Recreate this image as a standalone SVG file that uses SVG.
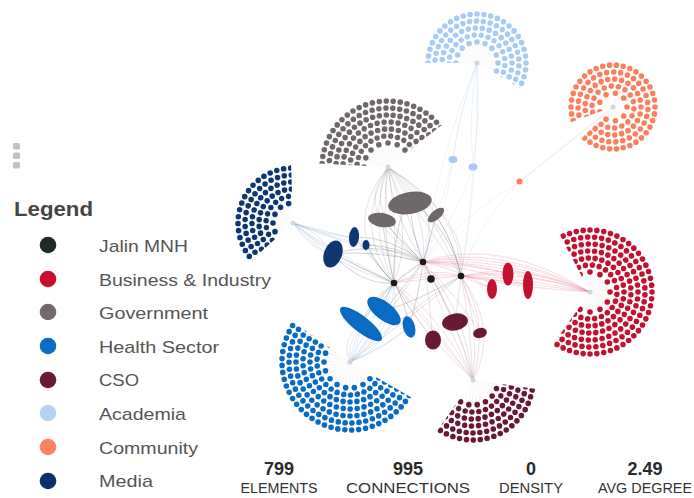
<svg xmlns="http://www.w3.org/2000/svg" width="694" height="498" viewBox="0 0 694 498">
  <defs>
    <style>
      .ring { fill: none; stroke-linecap: round; stroke-dasharray: 0 1; stroke-width: 5.6; }
      .spokes { fill: none; stroke: #c4c4c4; stroke-opacity: 0.55; stroke-dasharray: 0.12 1; }
      .hubdot { fill: #1b1b1b; }
      .fanc { fill: #d6d6d6; }
      .eg { fill: none; stroke: #7d7d7d; stroke-opacity: 0.3; stroke-width: 0.7; }
      .egd { fill: none; stroke: #555; stroke-opacity: 0.32; stroke-width: 0.8; }
      .ep { fill: none; stroke: #e0708a; stroke-opacity: 0.32; stroke-width: 0.8; }
      .eb { fill: none; stroke: #4d8fd6; stroke-opacity: 0.26; stroke-width: 0.7; }
      .en { fill: none; stroke: #4a6fa8; stroke-opacity: 0.24; stroke-width: 0.7; }
      .em { fill: none; stroke: #8b3d58; stroke-opacity: 0.22; stroke-width: 0.7; }
      .ea { fill: none; stroke: #9cc3ee; stroke-opacity: 0.3; stroke-width: 0.6; }
      .eo { fill: none; stroke: #f7a08a; stroke-opacity: 0.3; stroke-width: 0.6; }
      .lg-label { font-family: "Liberation Sans", Arial, sans-serif; font-size: 17px; fill: #555; }
      .st-num { font-family: "Liberation Sans", Arial, sans-serif; font-size: 18px; font-weight: bold; fill: #2a2a2a; text-anchor: middle; }
      .st-lab { font-family: "Liberation Sans", Arial, sans-serif; font-size: 14px; fill: #333; text-anchor: middle; }
    </style>
    <!-- angular sectors that each fan of dots is cut to -->
    <clipPath id="wRed"><polygon points="0,0 -56,-106 0,-120 85,-85 120,0 85,85 0,120 -69,98"/></clipPath>
    <clipPath id="wHealth"><polygon points="0,0 104,60 31,116 -60,104 -116,31 -98,-69"/></clipPath>
    <clipPath id="wMedia"><polygon points="0,0 -89,80 -120,0 -85,-85 -4,-120"/></clipPath>
    <clipPath id="wGov"><polygon points="0,0 -120,-6 -85,-85 0,-120 95,-74"/></clipPath>
    <clipPath id="wAcad"><polygon points="0,0 -120,0 -85,-85 0,-120 85,-85 120,0 104,60"/></clipPath>
    <clipPath id="wComm"><polygon points="0,0 -113,41 -120,0 -85,-85 0,-120 85,-85 120,0 85,85 0,120 -85,85"/></clipPath>
    <clipPath id="wCso"><polygon points="0,0 119,17 85,85 0,120 -69,98"/></clipPath>
  </defs>

  <rect width="694" height="498" fill="#ffffff"/>

  <!-- menu handle -->
  <g id="menu-handle" fill="#c2c2c2">
    <rect x="13" y="143" width="7" height="6.5" rx="1.5"/>
    <rect x="13" y="152.5" width="7" height="6.5" rx="1.5"/>
    <rect x="13" y="162" width="7" height="6.5" rx="1.5"/>
  </g>

  <!-- connectors -->
  <g id="connectors">
    <!-- government fan to hubs -->
    <path class="eg" d="M388 167Q350 215 423 262M388 167Q362 215 423 262M388 167Q376 218 423 262M388 167Q392 214 423 262M388 167Q408 212 423 262M388 167Q428 208 423 262M388 167Q446 212 423 262"/>
    <path class="eg" d="M388 167Q338 228 394 283M388 167Q352 228 394 283M388 167Q366 226 394 283M388 167Q380 226 394 283M388 167Q398 230 394 283M388 167Q414 232 394 283"/>
    <path class="eg" d="M388 167Q410 200 461 276M388 167Q428 204 461 276M388 167Q446 206 461 276M388 167Q462 212 461 276M388 167Q472 222 461 276"/>
    <!-- government groups to hubs -->
    <path class="egd" d="M410 203Q412 235 423 262M404 206Q392 245 394 283M416 206Q450 230 461 276M382 220Q400 240 423 262M382 220Q386 250 394 283M436 215Q430 240 423 262M436 215Q455 245 461 276"/>
    <!-- media -->
    <path class="en" d="M293 223Q320 232 333 254M293 223Q330 236 354 237M293 223Q340 240 366 245M293 223Q330 250 394 283M293 223Q335 258 394 283M293 223Q325 262 394 283M293 223Q345 245 423 262M293 223Q350 236 423 262M293 223Q320 246 333 254M293 223Q312 252 333 254"/>
    <path class="egd" d="M333 254Q380 240 423 262M333 254Q375 250 423 262M333 254Q365 270 394 283M333 254Q360 285 394 283M354 237Q390 236 423 262M354 237Q375 262 394 283M366 245Q395 245 423 262M366 245Q380 270 394 283"/>
    <!-- health sector -->
    <path class="eb" d="M350 362Q356 320 394 283M350 362Q368 326 394 283M350 362Q380 330 394 283M350 362Q392 336 394 283M350 362Q402 340 394 283M350 362Q345 330 384 311M350 362Q360 340 361 324M350 362Q390 345 409 327M350 362Q380 350 409 327M350 362Q340 340 361 324M350 362Q385 330 384 311"/>
    <path class="egd" d="M384 311Q385 295 394 283M361 324Q370 300 394 283M409 327Q405 300 394 283M384 311Q405 285 423 262M409 327Q420 290 423 262M361 324Q380 290 423 262M384 311Q420 300 461 276"/>
    <path class="eg" d="M350 362Q400 300 423 262M350 362Q395 320 461 276M350 362Q420 310 461 276"/>
    <!-- business and industry -->
    <path class="ep" d="M423 262Q500 236 590 292M423 262Q500 244 590 292M423 262Q505 250 590 292M423 262Q506 256 590 292M423 262Q510 262 590 292M423 262Q512 268 590 292"/>
    <path class="ep" d="M461 276Q520 262 590 292M461 276Q524 270 590 292M461 276Q525 278 590 292M461 276Q520 288 590 292M461 276Q530 284 590 292"/>
    <path class="ep" d="M394 283Q430 266 461 276M394 283Q430 272 461 276M394 283Q428 278 461 276M394 283Q410 268 423 262"/>
    <path class="ep" d="M423 262Q460 270 492 289M423 262Q470 262 508 274M423 262Q480 270 528 285M461 276Q475 282 492 289M461 276Q485 272 508 274M461 276Q495 280 528 285"/>
    <!-- CSO -->
    <path class="em" d="M473 380Q420 330 394 283M473 380Q430 320 394 283M473 380Q440 315 394 283M473 380Q445 320 423 262M473 380Q455 315 423 262M473 380Q465 310 423 262M473 380Q470 320 461 276M473 380Q480 325 461 276M473 380Q490 320 461 276M473 380Q500 330 461 276"/>
    <path class="em" d="M455 322Q440 290 423 262M455 322Q458 300 461 276M433 340Q410 310 394 283M433 340Q430 300 423 262M480 333Q470 300 461 276M480 333Q460 300 423 262"/>
    <path class="eg" d="M473 380Q440 340 394 283M473 380Q462 330 423 262"/>
    <!-- academia -->
    <path class="ea" d="M477 63Q460 110 453 159M477 63Q468 115 473 167M477 63Q455 130 453 159M477 63Q480 120 473 167M453 159Q440 210 423 262M453 159Q445 220 423 262M473 167Q470 220 461 276M473 167Q455 220 423 262M477 63Q440 150 423 262M477 63Q480 170 461 276"/>
    <!-- community -->
    <path class="eo" d="M613 107Q560 150 519 182M613 107Q565 145 519 182M519 182Q480 220 461 276M519 182Q470 210 423 262"/>
  </g>

  <!-- hubs -->
  <g id="node-hub-a"><circle class="hubdot" cx="423" cy="262" r="3.3"/></g>
  <g id="node-hub-b"><circle class="hubdot" cx="394" cy="283" r="3.3"/></g>
  <g id="node-hub-c"><circle class="hubdot" cx="461" cy="276" r="3.3"/></g>
  <g id="node-jalin"><circle class="hubdot" cx="431" cy="279" r="3.8"/></g>

  <!-- business & industry fan -->
  <g id="node-business" transform="translate(590,292)">
    <g clip-path="url(#wRed)" stroke="#c4112f">
      <circle class="spokes" r="10" stroke-width="20" pathLength="40"/>
      <circle class="ring" r="20" pathLength="12"/>
      <circle class="ring" r="27" pathLength="24" transform="rotate(5)"/>
      <circle class="ring" r="34" pathLength="31"/>
      <circle class="ring" r="41" pathLength="37" transform="rotate(4)"/>
      <circle class="ring" r="48" pathLength="43"/>
      <circle class="ring" r="55" pathLength="49" transform="rotate(3)"/>
      <circle class="ring" r="62" pathLength="56"/>
    </g>
    <circle class="fanc" r="2.5"/>
  </g>

  <!-- health sector fan -->
  <g id="node-health" transform="translate(350,362)">
    <g clip-path="url(#wHealth)" stroke="#0a6bc4">
      <circle class="spokes" r="12" stroke-width="24" pathLength="40"/>
      <circle class="ring" r="26" pathLength="18"/>
      <circle class="ring" r="33" pathLength="30" transform="rotate(5)"/>
      <circle class="ring" r="40" pathLength="36"/>
      <circle class="ring" r="47" pathLength="42" transform="rotate(4)"/>
      <circle class="ring" r="54" pathLength="48"/>
      <circle class="ring" r="61" pathLength="55" transform="rotate(3)"/>
      <circle class="ring" r="68" pathLength="61"/>
    </g>
    <circle class="fanc" r="2.5"/>
  </g>

  <!-- media fan -->
  <g id="node-media" transform="translate(293,223)">
    <g clip-path="url(#wMedia)" stroke="#0d3673">
      <circle class="spokes" r="9" stroke-width="18" pathLength="40"/>
      <circle class="ring" r="20" pathLength="14"/>
      <circle class="ring" r="27" pathLength="24" transform="rotate(5)"/>
      <circle class="ring" r="34" pathLength="31"/>
      <circle class="ring" r="41" pathLength="37" transform="rotate(4)"/>
      <circle class="ring" r="48" pathLength="43"/>
      <circle class="ring" r="55" pathLength="49" transform="rotate(3)"/>
    </g>
    <circle class="fanc" r="2.5"/>
  </g>

  <!-- government fan -->
  <g id="node-government" transform="translate(388,167)">
    <g clip-path="url(#wGov)" stroke="#6e6868">
      <circle class="spokes" r="11" stroke-width="22" pathLength="40"/>
      <circle class="ring" r="24" pathLength="16"/>
      <circle class="ring" r="31" pathLength="28" transform="rotate(5)"/>
      <circle class="ring" r="38" pathLength="34"/>
      <circle class="ring" r="45" pathLength="40" transform="rotate(4)"/>
      <circle class="ring" r="52" pathLength="47"/>
      <circle class="ring" r="59" pathLength="53" transform="rotate(3)"/>
      <circle class="ring" r="66" pathLength="59"/>
    </g>
    <circle class="fanc" r="2.5"/>
  </g>

  <!-- academia fan -->
  <g id="node-academia" transform="translate(477,63)">
    <g clip-path="url(#wAcad)" stroke="#a7cbf4">
      <circle class="spokes" r="10" stroke-width="20" pathLength="40"/>
      <circle class="ring" r="21" pathLength="16"/>
      <circle class="ring" r="28" pathLength="25" transform="rotate(5)"/>
      <circle class="ring" r="35" pathLength="31"/>
      <circle class="ring" r="42" pathLength="38" transform="rotate(4)"/>
      <circle class="ring" r="49" pathLength="44"/>
    </g>
    <circle class="fanc" r="2.5"/>
  </g>

  <!-- community fan -->
  <g id="node-community" transform="translate(613,107)">
    <g clip-path="url(#wComm)" stroke="#fa7f5c">
      <circle class="spokes" r="6" stroke-width="12" pathLength="40"/>
      <circle class="ring" r="14" pathLength="9"/>
      <circle class="ring" r="21" pathLength="18" transform="rotate(5)"/>
      <circle class="ring" r="28" pathLength="25"/>
      <circle class="ring" r="35" pathLength="31" transform="rotate(4)"/>
      <circle class="ring" r="42" pathLength="38"/>
    </g>
    <circle class="fanc" r="2.5"/>
  </g>

  <!-- CSO fan -->
  <g id="node-cso" transform="translate(473,380)">
    <g clip-path="url(#wCso)" stroke="#6a1933">
      <circle class="spokes" r="11" stroke-width="22" pathLength="40"/>
      <circle class="ring" r="25" pathLength="18"/>
      <circle class="ring" r="32" pathLength="29" transform="rotate(5)"/>
      <circle class="ring" r="39" pathLength="35"/>
      <circle class="ring" r="46" pathLength="41" transform="rotate(4)"/>
      <circle class="ring" r="53" pathLength="48"/>
      <circle class="ring" r="60" pathLength="54" transform="rotate(3)"/>
    </g>
    <circle class="fanc" r="2.5"/>
  </g>

  <!-- dense member groups -->
  <g id="node-gov-groups" fill="#6e6868">
    <ellipse cx="410" cy="203" rx="22" ry="11" transform="rotate(-10 410 203)"/>
    <ellipse cx="382" cy="220" rx="14" ry="7" transform="rotate(10 382 220)"/>
    <ellipse cx="436" cy="215" rx="10" ry="4.5" transform="rotate(-40 436 215)"/>
  </g>
  <g id="node-media-groups" fill="#0d3673">
    <ellipse cx="333" cy="254" rx="9" ry="14" transform="rotate(20 333 254)"/>
    <ellipse cx="354" cy="237" rx="5" ry="10" transform="rotate(5 354 237)"/>
    <ellipse cx="366" cy="245" rx="3.5" ry="5"/>
  </g>
  <g id="node-health-groups" fill="#0a6bc4">
    <ellipse cx="384" cy="311" rx="20" ry="9" transform="rotate(38 384 311)"/>
    <ellipse cx="361" cy="324" rx="26" ry="8" transform="rotate(38 361 324)"/>
    <ellipse cx="409" cy="327" rx="6" ry="11" transform="rotate(-15 409 327)"/>
  </g>
  <g id="node-business-groups" fill="#c4112f">
    <ellipse cx="492" cy="289" rx="5" ry="10"/>
    <ellipse cx="508" cy="274" rx="5.5" ry="11.5"/>
    <ellipse cx="528" cy="285" rx="5" ry="14"/>
  </g>
  <g id="node-cso-groups" fill="#6a1933">
    <ellipse cx="455" cy="322" rx="13" ry="8.5" transform="rotate(-10 455 322)"/>
    <ellipse cx="433" cy="340" rx="8" ry="9.5"/>
    <ellipse cx="480" cy="333" rx="7" ry="5" transform="rotate(-15 480 333)"/>
  </g>
  <g id="node-academia-groups" fill="#a7cbf4">
    <ellipse cx="453" cy="159.5" rx="4.5" ry="3.5"/>
    <ellipse cx="473" cy="167" rx="4.5" ry="3.5"/>
  </g>
  <g id="node-community-groups" fill="#fa7f5c">
    <circle cx="519.5" cy="181.5" r="3"/>
  </g>

  <!-- legend -->
  <g id="legend">
    <text x="14" y="216" font-family="Liberation Sans, Arial, sans-serif" font-size="20" font-weight="bold" fill="#454545" textLength="79" lengthAdjust="spacingAndGlyphs">Legend</text>
    <circle cx="48" cy="245" r="8.3" fill="#1f2a22"/>
    <text class="lg-label" x="99" y="252" textLength="89" lengthAdjust="spacingAndGlyphs">Jalin MNH</text>
    <circle cx="48" cy="279" r="8.3" fill="#c8102e"/>
    <text class="lg-label" x="99" y="286" textLength="172" lengthAdjust="spacingAndGlyphs">Business &amp; Industry</text>
    <circle cx="48" cy="312" r="8.3" fill="#706a6a"/>
    <text class="lg-label" x="99" y="319" textLength="109" lengthAdjust="spacingAndGlyphs">Government</text>
    <circle cx="48" cy="346" r="8.3" fill="#0b6cc5"/>
    <text class="lg-label" x="99" y="353" textLength="120" lengthAdjust="spacingAndGlyphs">Health Sector</text>
    <circle cx="48" cy="380" r="8.3" fill="#6b1a33"/>
    <text class="lg-label" x="99" y="386" textLength="40" lengthAdjust="spacingAndGlyphs">CSO</text>
    <circle cx="48" cy="413" r="8.3" fill="#b4d3f5"/>
    <text class="lg-label" x="99" y="420" textLength="87" lengthAdjust="spacingAndGlyphs">Academia</text>
    <circle cx="48" cy="447" r="8.3" fill="#fb8263"/>
    <text class="lg-label" x="99" y="454" textLength="99" lengthAdjust="spacingAndGlyphs">Community</text>
    <circle cx="48" cy="481" r="8.3" fill="#0b2f6b"/>
    <text class="lg-label" x="99" y="487" textLength="54" lengthAdjust="spacingAndGlyphs">Media</text>
  </g>

  <!-- network statistics -->
  <g id="stats">
    <text class="st-num" x="279" y="475">799</text>
    <text class="st-lab" x="279" y="493" textLength="77" lengthAdjust="spacingAndGlyphs">ELEMENTS</text>
    <text class="st-num" x="408" y="475">995</text>
    <text class="st-lab" x="408" y="493" textLength="124" lengthAdjust="spacingAndGlyphs">CONNECTIONS</text>
    <text class="st-num" x="531" y="475">0</text>
    <text class="st-lab" x="531" y="493" textLength="64" lengthAdjust="spacingAndGlyphs">DENSITY</text>
    <text class="st-num" x="645" y="475">2.49</text>
    <text class="st-lab" x="645" y="493" textLength="94" lengthAdjust="spacingAndGlyphs">AVG DEGREE</text>
  </g>
</svg>
